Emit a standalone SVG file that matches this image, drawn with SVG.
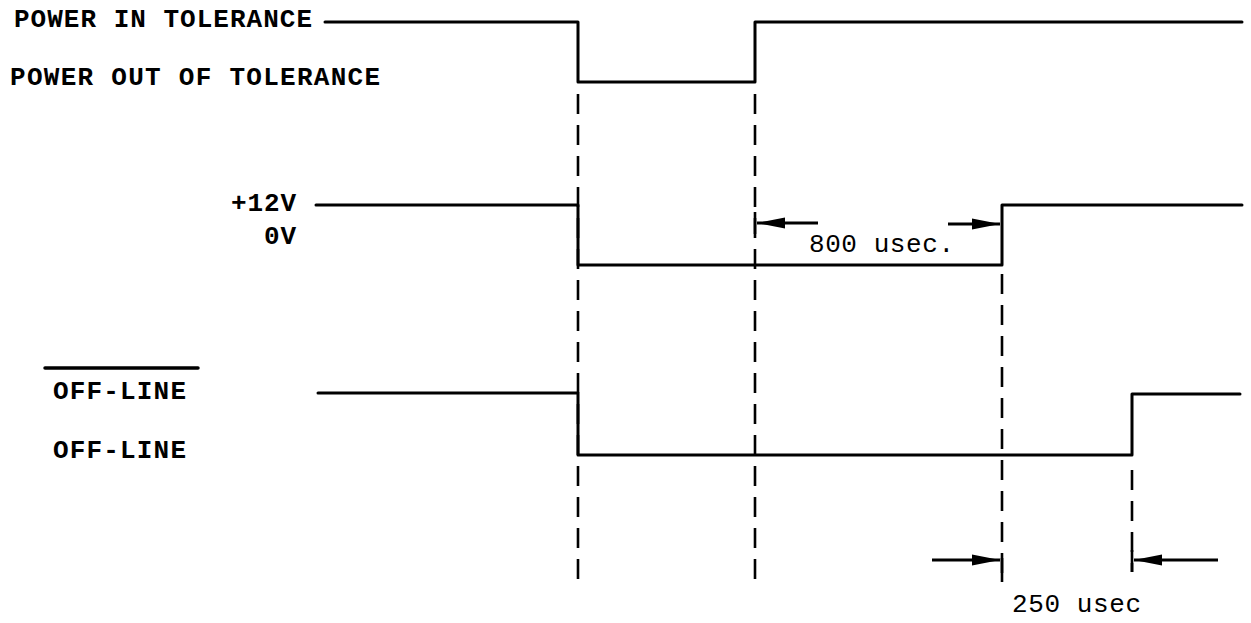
<svg xmlns="http://www.w3.org/2000/svg" width="1251" height="623" viewBox="0 0 1251 623">
<style>
.bg{fill:#fff}
.lbl{font-family:"Liberation Mono","Courier New",monospace;font-size:26px;font-weight:bold;fill:#000}
.dim{font-family:"Liberation Mono","Courier New",monospace;font-size:26px;font-weight:normal;fill:#000}
.wave{fill:none;stroke:#000;stroke-width:3;stroke-linejoin:round;stroke-linecap:round}
.guide{fill:none;stroke:#000;stroke-width:2.6;stroke-dasharray:20 11}
.arr{fill:none;stroke:#000;stroke-width:3}
.tick{fill:none;stroke:#000;stroke-width:2.6}
</style>
<defs>
<marker id="ah" markerUnits="userSpaceOnUse" markerWidth="30" markerHeight="14" refX="28" refY="7" orient="auto">
<path d="M0,1.5 L28,7 L0,12.5 Z" fill="#000"/>
</marker>
</defs>
<rect class="bg" x="0" y="0" width="1251" height="623"/>
<g id="labels">
<text class="lbl" x="14" y="27" textLength="298" lengthAdjust="spacing">POWER IN TOLERANCE</text>
<text class="lbl" x="10" y="85" textLength="370" lengthAdjust="spacing">POWER OUT OF TOLERANCE</text>
<text class="lbl" x="231" y="211" textLength="65" lengthAdjust="spacing">+12V</text>
<text class="lbl" x="264" y="244" textLength="32" lengthAdjust="spacing">0V</text>
<g id="offline-bar">
<line x1="45" y1="368" x2="198" y2="368" stroke="#000" stroke-width="3.5" stroke-linecap="round"/>
<text class="lbl" x="53" y="399" textLength="133" lengthAdjust="spacing">OFF-LINE</text>
</g>
<text class="lbl" x="53" y="458" textLength="133" lengthAdjust="spacing">OFF-LINE</text>
</g>
<g id="guides">
<line class="guide" x1="578" y1="94" x2="578" y2="588"/>
<line class="guide" x1="755" y1="94" x2="755" y2="588"/>
<line class="guide" x1="1002" y1="274" x2="1002" y2="582"/>
<line class="guide" x1="1132" y1="470" x2="1132" y2="572"/>
</g>
<g id="waveforms">
<polyline id="power" class="wave" points="325,22 578,22 578,82 755,82 755,22 1242,22"/>
<polyline id="v12" class="wave" points="316,205 578,205 578,265 1002,265 1002,205 1242,205"/>
<polyline id="offline" class="wave" points="318,393 578,393 578,455 1132,455 1132,394 1240,394"/>
</g>
<g id="dimensions">
<line class="tick" x1="755" y1="212" x2="755" y2="234"/>
<line class="arr" x1="818" y1="223" x2="757" y2="223" marker-end="url(#ah)"/>
<line class="arr" x1="948" y1="224" x2="1000" y2="224" marker-end="url(#ah)"/>
<text class="dim" x="809" y="252" textLength="145" lengthAdjust="spacing">800 usec.</text>
<line class="arr" x1="932" y1="560" x2="1000" y2="560" marker-end="url(#ah)"/>
<line class="tick" x1="1002" y1="558" x2="1002" y2="582"/>
<line class="tick" x1="1132" y1="550" x2="1132" y2="572"/>
<line class="arr" x1="1218" y1="560" x2="1134" y2="560" marker-end="url(#ah)"/>
<text class="dim" x="1012" y="612" textLength="129" lengthAdjust="spacing">250 usec</text>
</g>
</svg>
